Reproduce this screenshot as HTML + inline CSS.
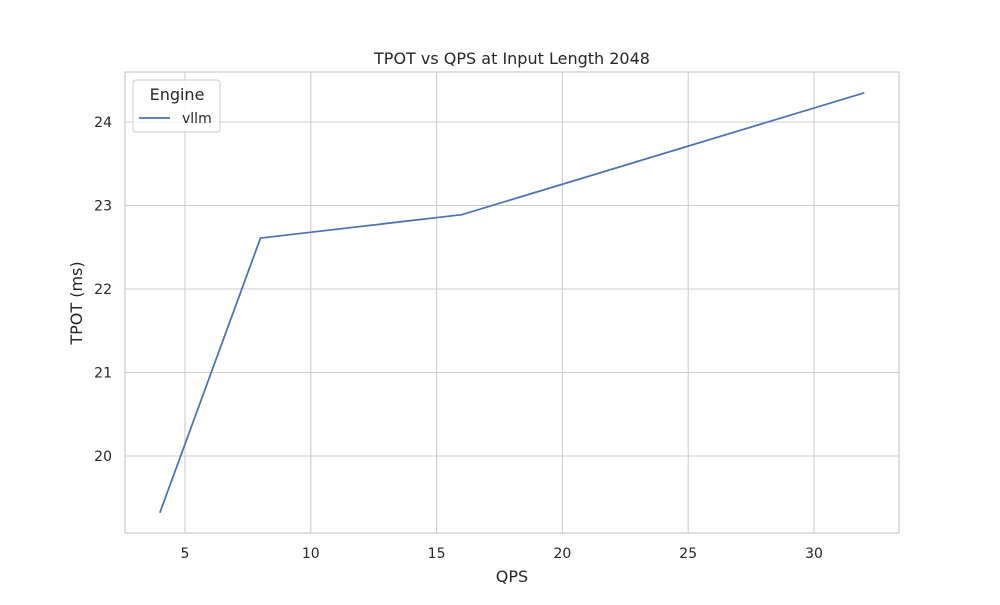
<!DOCTYPE html>
<html><head><meta charset="utf-8"><style>
body{margin:0;background:#fff;font-family:"Liberation Sans","DejaVu Sans",sans-serif;}
svg text{font-family:"DejaVu Sans","Liberation Sans",sans-serif;fill:#262626;}
</style></head><body>
<svg id="chart" width="1000" height="600">
<rect x="0" y="0" width="1000" height="600" fill="#fff"/>
<g id="grid"></g>
<rect x="125" y="72" width="774" height="461" fill="none" stroke="#cccccc" stroke-width="1.25"/>
<g id="ticks"></g>
<g id="series"></g>
<text x="512" y="64" text-anchor="middle" font-size="16">TPOT vs QPS at Input Length 2048</text>
<text x="512" y="582" text-anchor="middle" font-size="16">QPS</text>
<text transform="translate(82,303) rotate(-90)" text-anchor="middle" font-size="16">TPOT (ms)</text>
<g>
<rect x="133" y="80" width="87" height="52" rx="3" fill="#fff" fill-opacity="0.8" stroke="#cccccc"/>
<text x="177" y="100" text-anchor="middle" font-size="16">Engine</text>
<line x1="139" y1="118" x2="170" y2="118" stroke="#4c72b0" stroke-width="1.75"/>
<text x="182" y="123" font-size="14">vllm</text>
</g>
</svg>
<script>
const qps=[4,8,16,32];
const tpot=[19.32,22.61,22.89,24.35];
const xTicks=[5,10,15,20,25,30];
const yTicks=[20,21,22,23,24];
const NS="http://www.w3.org/2000/svg";
function xs(v){return 185+(v-5)*25.16;}
function ys(v){return 456-(v-20)*83.5;}
const grid=document.getElementById('grid'),ticks=document.getElementById('ticks'),series=document.getElementById('series');
function mk(tag,attrs,parent){const e=document.createElementNS(NS,tag);for(const k in attrs)e.setAttribute(k,attrs[k]);parent.appendChild(e);return e;}
xTicks.forEach(t=>{
 const l=mk('line',{x1:xs(t),x2:xs(t),y1:72,y2:533,stroke:'#cccccc','stroke-width':1.1},grid);
 
 
 const tx=mk('text',{x:xs(t),y:558,'text-anchor':'middle','font-size':14},ticks);
 tx.textContent=t;
 
 
});
yTicks.forEach(t=>{
 const l=mk('line',{x1:125,x2:899,y1:ys(t),y2:ys(t),stroke:'#cccccc','stroke-width':1.1},grid);
 
 
 const tx=mk('text',{x:112,y:ys(t)+5,'text-anchor':'end','font-size':14},ticks);
 tx.textContent=t;
 
 
});
const pts=qps.map((q,i)=>xs(q)+','+ys(tpot[i])).join(' ');
const pl=mk('polyline',{points:pts,fill:'none',stroke:'#4c72b0','stroke-width':1.75,'stroke-linejoin':'round'},series);


</script>
</body></html>
